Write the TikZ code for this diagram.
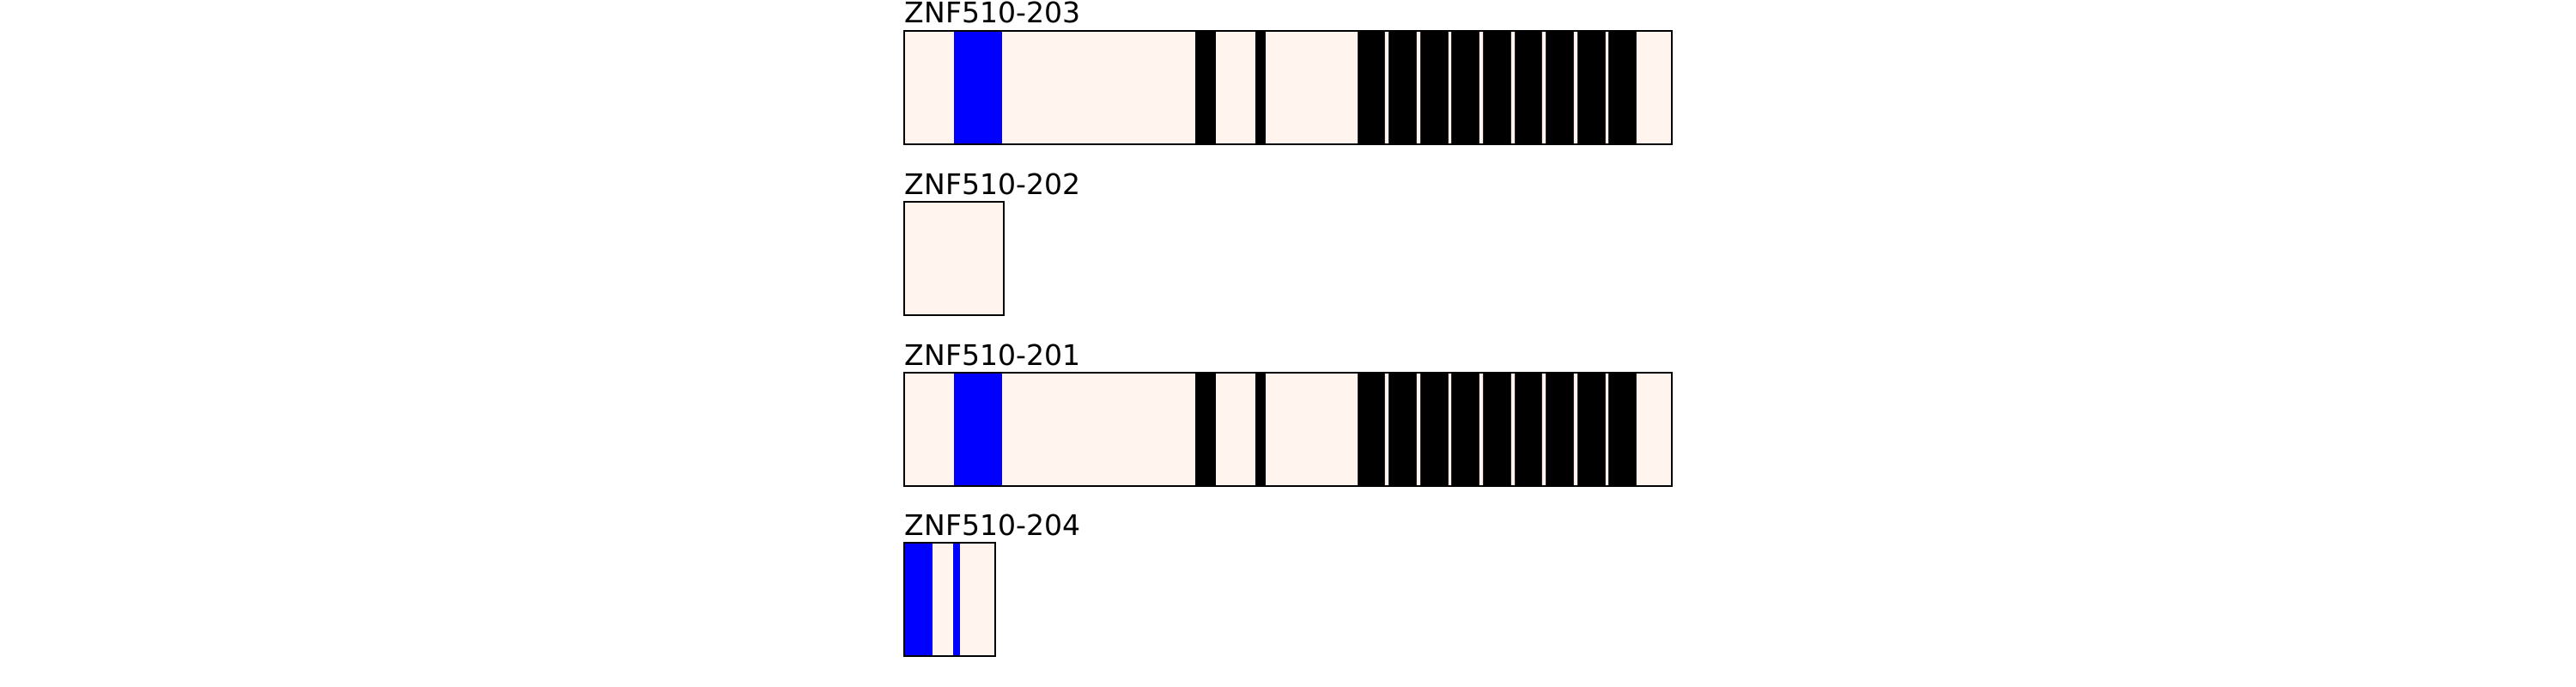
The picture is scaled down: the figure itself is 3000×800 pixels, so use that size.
\documentclass[tikz,border=0pt]{standalone}
\usepackage{fontspec}
\setmainfont{DejaVu Sans}
\definecolor{utrfill}{RGB}{255,244,238}
\begin{document}
\begin{tikzpicture}[x=0.01cm,y=-0.01cm,
  txbox/.style={draw=black,line width=0.75pt},
  txname/.style={anchor=base west,inner sep=0pt,font=\fontsize{9.4}{11}\selectfont},
  znblock/.style={fill=black,draw=black!85,line width=0.2pt}]
 \useasboundingbox (0,0) rectangle (3000,800);
 % full length transcripts
 \foreach \y/\nm in {36/203,434/201} {
   \fill[utrfill] (1053,\y) rectangle ++(894,132);
   \fill[blue] (1111,\y) rectangle ++(56,132);
   \fill[black] (1392,\y) rectangle ++(24,132);
   \fill[black] (1462,\y) rectangle ++(12,132);
   \foreach \k in {0,...,8}
     \filldraw[znblock] ({1581+36.6*\k},\y) rectangle ++(31.7,132);
   \draw[txbox] (1053,\y) rectangle ++(894,132);
   \node[txname] (t\nm) at (1053,\y-9) {ZNF510-\nm};
 }
 % short transcripts
 \fill[utrfill] (1053,235) rectangle ++(116,132);
 \draw[txbox] (1053,235) rectangle ++(116,132);
 \node[txname] (t202) at (1053,226) {ZNF510-202};
 \fill[utrfill] (1053,632) rectangle ++(106,132);
 \fill[blue] (1053,632) rectangle ++(33,132);
 \fill[blue] (1110,632) rectangle ++(8,132);
 \draw[txbox] (1053,632) rectangle ++(106,132);
 \node[txname] (t204) at (1053,623) {ZNF510-204};
\end{tikzpicture}
\end{document}
